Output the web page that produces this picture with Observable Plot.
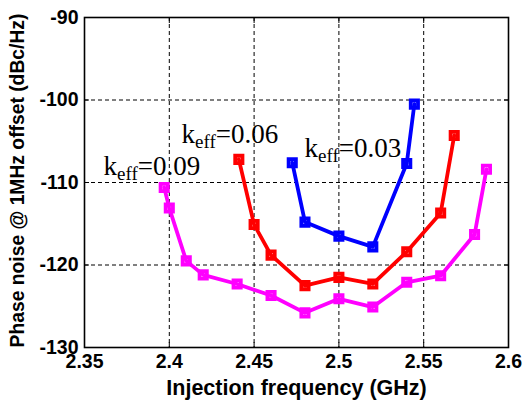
<!DOCTYPE html>
<html>
<head>
<meta charset="utf-8">
<script src="https://cdn.jsdelivr.net/npm/d3@7"></script>
<script src="https://cdn.jsdelivr.net/npm/@observablehq/plot@0.6"></script>
<style>
  html, body { margin: 0; padding: 0; background: #fff; overflow: hidden; }
</style>
</head>
<body>
<div id="chart"></div>
<script>
// Phase noise at 1 MHz offset vs. injection frequency, one curve per coupling factor
const k009Freq  = [2.397, 2.4, 2.41, 2.42, 2.44, 2.46, 2.48, 2.5, 2.52, 2.54, 2.56, 2.58, 2.587];
const k009Noise = [-110.6, -113.1, -119.5, -121.2, -122.3, -123.7, -125.8, -124.1, -125.1, -122.1, -121.3, -116.3, -108.4];

const k006Freq  = [2.441, 2.45, 2.46, 2.48, 2.5, 2.52, 2.54, 2.56, 2.568];
const k006Noise = [-107.2, -115.1, -118.8, -122.5, -121.5, -122.3, -118.4, -113.7, -104.3];

const k003Freq  = [2.4725, 2.48, 2.5, 2.52, 2.54, 2.5445];
const k003Noise = [-107.6, -114.8, -116.5, -117.8, -107.7, -100.5];

const keffValues = [0.09, 0.06, 0.03];
const seriesColors = ["#ff00ff", "#ff0000", "#0000ff"];

// where each k_eff annotation starts (left end, text baseline)
const labelFreq  = [2.3612, 2.4072, 2.4797];
const labelNoise = [-109.15, -105.27, -106.85];

const xTicks = [2.35, 2.4, 2.45, 2.5, 2.55, 2.6];
const yTicks = [-130, -120, -110, -100, -90];

const xLabel = "Injection frequency (GHz)";
const yLabel = "Phase noise @ 1MHz offset (dBc/Hz)";

// long-format table built from the arrays above
const curves = [
  [k009Freq, k009Noise],
  [k006Freq, k006Noise],
  [k003Freq, k003Noise]
];
const rows = curves.flatMap(([fs, ns], i) =>
  fs.map((f, j) => ({freq: f, noise: ns[j], keff: keffValues[i]}))
);
const labels = keffValues.map((k, i) => ({
  freq: labelFreq[i], noise: labelNoise[i], text: "keff=" + k.toFixed(2)
}));

const sans = "'Liberation Sans', Arial, sans-serif";
const serif = "'Liberation Serif', 'Times New Roman', serif";

const plot = Plot.plot({
  width: 524,
  height: 403,
  marginLeft: 84,
  marginRight: 16,
  marginTop: 17,
  marginBottom: 56,
  style: {background: "#fff", overflow: "visible", fontFamily: sans},
  x: {domain: [2.35, 2.6], axis: null},
  y: {domain: [-130, -90], axis: null},
  color: {domain: keffValues, range: seriesColors},
  marks: [
    Plot.gridX(xTicks, {stroke: "#000", strokeOpacity: 1, strokeWidth: 1, strokeDasharray: "4,3"}),
    Plot.gridY(yTicks, {stroke: "#000", strokeOpacity: 1, strokeWidth: 1, strokeDasharray: "4,3"}),
    // inward tick marks on all four sides
    Plot.axisX(xTicks, {anchor: "bottom", tickSize: -5, tickFormat: () => "", label: null}),
    Plot.axisX(xTicks, {anchor: "top", tickSize: -5, tickFormat: () => "", label: null}),
    Plot.axisY(yTicks, {anchor: "left", tickSize: -5, tickFormat: () => "", label: null}),
    Plot.axisY(yTicks, {anchor: "right", tickSize: -5, tickFormat: () => "", label: null}),
    // bold tick labels
    Plot.text(xTicks, {x: d => d, frameAnchor: "bottom", lineAnchor: "top", textAnchor: "middle",
      dy: 7, text: d => String(d), fontSize: 19.5, fontWeight: "bold", fontFamily: sans, fill: "#000"}),
    Plot.text(yTicks, {y: d => d, frameAnchor: "left", textAnchor: "end", lineAnchor: "middle",
      dx: -6, text: d => String(d), fontSize: 19.5, fontWeight: "bold", fontFamily: sans, fill: "#000"}),
    Plot.frame({stroke: "#000", strokeWidth: 1.6}),
    // curves and square markers
    Plot.line(rows, {x: "freq", y: "noise", z: "keff", stroke: "keff", strokeWidth: 3.8,
      strokeLinejoin: "round"}),
    Plot.dot(rows, {x: "freq", y: "noise", stroke: "keff", symbol: "square", r: 4.1,
      strokeWidth: 3.8, fill: "none"}),
    // k_eff annotations
    Plot.text(labels, {x: "freq", y: "noise", text: "text", textAnchor: "start", lineAnchor: "bottom",
      fontSize: 27, fontFamily: serif, fill: "#000"}),
    // axis titles
    Plot.text([xLabel], {frameAnchor: "bottom", textAnchor: "middle", lineAnchor: "top", dy: 32,
      fontSize: 21.5, fontWeight: "bold", fontFamily: sans, fill: "#000"}),
    Plot.text([yLabel], {frameAnchor: "left", textAnchor: "middle", rotate: -90, dx: -67, dy: -2,
      fontSize: 19.3, fontWeight: "bold", fontFamily: sans, fill: "#000"})
  ]
});

// set "eff" as a subscript in each annotation
d3.select(plot).selectAll("text")
  .filter(function () { return /^keff=/.test(this.textContent); })
  .each(function () {
    const t = d3.select(this);
    const rest = this.textContent.slice(4);
    t.text(null);
    t.append("tspan").text("k");
    t.append("tspan").attr("font-size", 19).attr("dy", 5).text("eff");
    t.append("tspan").attr("dy", -5).text(rest);
  });

document.getElementById("chart").appendChild(plot);
</script>
</body>
</html>
